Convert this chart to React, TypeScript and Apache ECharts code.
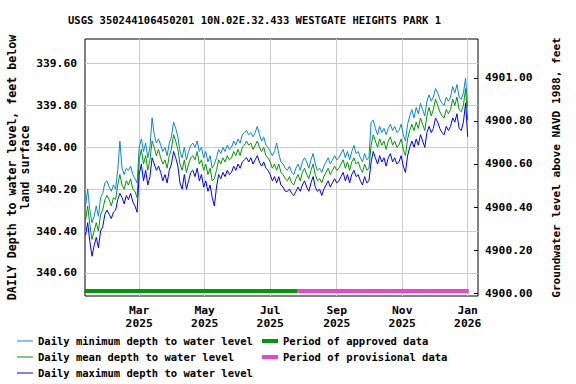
import React, { useEffect, useRef } from "react";
import * as echarts from "echarts";

const TITLE = "USGS 350244106450201 10N.02E.32.433 WESTGATE HEIGHTS PARK 1";
const LEFT_NAME = "DAILY Depth to water level, feet below\nland surface";
const RIGHT_NAME = "Groundwater level above NAVD 1988, feet";

const START_DATE = "2025-01-10";
const STEP_DAYS = 2;

const meanDepth = [
  340.35,340.28,340.37,340.44,340.40,340.36,340.40,340.32,340.30,340.25,
  340.23,340.25,340.28,340.24,340.25,340.18,340.13,340.18,340.20,340.16,
  340.18,340.15,340.20,340.21,340.24,340.06,340.01,340.08,340.04,340.11,
  340.06,339.97,340.00,340.04,340.01,340.05,340.08,340.06,340.10,340.04,
  340.01,339.94,339.97,340.01,340.08,340.11,340.06,340.12,340.08,340.05,
  340.04,340.06,340.02,340.08,340.06,340.11,340.08,340.13,340.10,340.16,
  340.15,340.11,340.06,340.08,340.05,340.07,340.04,340.06,340.05,340.02,
  340.04,340.01,340.04,340.00,339.99,339.97,339.99,339.98,340.01,339.99,
  339.97,340.00,340.02,340.00,340.04,340.05,340.07,340.10,340.08,340.11,
  340.08,340.12,340.13,340.15,340.16,340.14,340.17,340.18,340.15,340.13,
  340.16,340.12,340.10,340.13,340.15,340.11,340.08,340.13,340.16,340.15,
  340.17,340.14,340.12,340.10,340.13,340.11,340.09,340.11,340.10,340.08,
  340.06,340.10,340.07,340.11,340.07,340.05,340.08,340.07,340.10,340.12,
  340.08,340.11,340.10,339.99,339.94,339.97,340.00,339.96,339.99,339.97,
  340.01,339.97,339.95,339.99,339.97,340.00,339.99,339.96,340.01,340.04,
  339.96,339.92,339.89,339.92,339.88,339.91,339.86,339.89,339.92,339.85,
  339.81,339.85,339.82,339.77,339.80,339.83,339.85,339.86,339.82,339.84,
  339.82,339.77,339.80,339.76,339.82,339.83,339.80,339.72,339.87,
];

const minDepth = [
  340.28,340.20,340.30,340.36,340.33,340.28,340.33,340.24,340.22,340.17,
  340.16,340.19,340.21,340.18,340.20,340.11,339.97,340.10,340.13,340.10,
  340.11,340.09,340.13,340.15,340.17,340.00,339.96,340.02,339.98,340.05,
  340.00,339.86,339.94,339.98,339.96,339.99,340.02,340.00,340.04,339.98,
  339.95,339.88,339.91,339.95,340.02,340.05,340.00,340.06,340.02,339.99,
  339.98,340.00,339.97,340.02,340.00,340.05,340.02,340.07,340.04,340.10,
  340.08,340.05,340.01,340.03,340.00,340.02,339.99,340.01,340.00,339.97,
  339.99,339.96,339.98,339.94,339.93,339.92,339.94,339.93,339.95,339.93,
  339.90,339.94,339.97,339.95,339.99,340.00,340.02,340.04,340.02,339.98,
  340.03,340.07,340.08,340.10,340.11,340.09,340.12,340.13,340.10,340.08,
  340.11,340.07,340.05,340.07,340.10,340.06,340.03,340.08,340.11,340.10,
  340.12,340.09,340.07,340.05,340.08,340.06,340.04,340.06,340.05,340.03,
  340.01,340.05,340.02,340.06,340.02,339.99,340.03,340.02,340.05,340.07,
  340.03,340.06,340.05,339.88,339.87,339.91,339.94,339.90,339.93,339.91,
  339.94,339.91,339.89,339.92,339.90,339.93,339.92,339.89,339.94,339.97,
  339.89,339.85,339.82,339.86,339.81,339.84,339.79,339.82,339.85,339.78,
  339.75,339.78,339.76,339.72,339.74,339.77,339.79,339.80,339.76,339.78,
  339.76,339.71,339.74,339.70,339.76,339.77,339.74,339.67,339.81,
];

const maxDepth = [
  340.42,340.36,340.45,340.52,340.47,340.43,340.48,340.40,340.38,340.32,
  340.30,340.32,340.34,340.31,340.30,340.25,340.22,340.24,340.27,340.23,
  340.25,340.22,340.26,340.28,340.31,340.13,340.08,340.16,340.11,340.18,
  340.14,340.05,340.08,340.11,340.09,340.12,340.16,340.13,340.17,340.11,
  340.08,340.02,340.05,340.09,340.17,340.20,340.13,340.20,340.16,340.12,
  340.11,340.14,340.10,340.16,340.13,340.19,340.16,340.21,340.18,340.24,
  340.28,340.19,340.13,340.15,340.12,340.14,340.11,340.13,340.12,340.09,
  340.11,340.08,340.10,340.07,340.06,340.05,340.07,340.05,340.08,340.06,
  340.04,340.07,340.09,340.07,340.10,340.11,340.13,340.16,340.14,340.17,
  340.14,340.18,340.19,340.21,340.21,340.20,340.22,340.23,340.21,340.19,
  340.21,340.18,340.16,340.19,340.21,340.17,340.14,340.19,340.21,340.20,
  340.23,340.20,340.18,340.16,340.19,340.17,340.15,340.17,340.16,340.14,
  340.12,340.16,340.13,340.17,340.13,340.11,340.14,340.13,340.16,340.18,
  340.14,340.17,340.16,340.07,340.02,340.05,340.08,340.04,340.07,340.05,
  340.09,340.05,340.03,340.07,340.05,340.08,340.07,340.04,340.09,340.12,
  340.04,340.00,339.97,340.00,339.96,339.99,339.94,339.97,340.00,339.93,
  339.90,339.93,339.91,339.86,339.88,339.91,339.93,339.94,339.90,339.92,
  339.90,339.86,339.88,339.84,339.91,339.92,339.88,339.79,339.95,
];

const depthTicks = [339.6, 339.8, 340.0, 340.2, 340.4, 340.6];
const elevTicks = [4900.0, 4900.2, 4900.4, 4900.6, 4900.8, 4901.0];
const monthTicks = ["2025-03-01", "2025-05-01", "2025-07-01", "2025-09-01", "2025-11-01", "2026-01-01"];
const approvedPeriod = ["2025-01-09", "2025-07-26"];
const provisionalPeriod = ["2025-07-26", "2026-01-02"];

const X_RANGE = ["2025-01-09T12:00:00Z", "2026-01-10T14:00:00Z"];
const DEPTH_RANGE = [339.483, 340.71];
const ELEV_RANGE = [4899.987, 4901.18];
const PERIOD_BAR_DEPTH = 340.686;

const MONTHS = ["Jan", "Feb", "Mar", "Apr", "May", "Jun", "Jul", "Aug", "Sep", "Oct", "Nov", "Dec"];
const FONT = "'DejaVu Sans Mono', monospace";

const DAY = 86400000;
const toTime = (s: string) => Date.parse(s.length === 10 ? s + "T00:00:00Z" : s);

export default function App() {
  const ref = useRef<HTMLDivElement>(null);

  useEffect(() => {
    if (!ref.current) return;
    const chart = echarts.init(ref.current, undefined, { renderer: "svg" });
    const t0 = toTime(START_DATE);
    const times = meanDepth.map((_, i) => t0 + i * STEP_DAYS * DAY);
    const pairs = (vals: number[]) => vals.map((v, i) => [times[i], v]);
    const monthVals = monthTicks.map(toTime);
    const axisText = { fontFamily: FONT, fontWeight: "bold" as const, fontSize: 11.3, color: "#000" };

    chart.setOption({
      animation: false,
      backgroundColor: "#ffffff",
      title: {
        text: TITLE,
        left: 68,
        top: 14,
        padding: 0,
        textStyle: { fontFamily: FONT, fontWeight: "bold", fontSize: 10.5, color: "#000" },
      },
      grid: {
        left: 85,
        right: 98,
        top: 39,
        bottom: 88,
        show: true,
        borderColor: "#000",
        borderWidth: 1,
        backgroundColor: "transparent",
        containLabel: false,
        outerBoundsMode: "none",
      },
      xAxis: {
        type: "value",
        min: toTime(X_RANGE[0]),
        max: toTime(X_RANGE[1]),
        axisLine: { show: false },
        axisTick: { show: false, customValues: monthVals },
        axisLabel: {
          customValues: monthVals,
          ...axisText,
          margin: 8,
          lineHeight: 13,
          formatter: (v: number) => {
            const d = new Date(v);
            return MONTHS[d.getUTCMonth()] + "\n" + d.getUTCFullYear();
          },
        },
        splitLine: { show: true, lineStyle: { color: "#cccccc", width: 1 } },
      },
      yAxis: [
        {
          type: "value",
          inverse: true,
          position: "left",
          min: DEPTH_RANGE[0],
          max: DEPTH_RANGE[1],
          name: LEFT_NAME,
          nameLocation: "middle",
          nameRotate: 90,
          nameGap: 54,
          nameMoveOverlap: false,
          nameTextStyle: { ...axisText, fontSize: 11.6, lineHeight: 13 },
          axisLine: { show: false },
          axisTick: { show: false, customValues: depthTicks },
          axisLabel: { customValues: depthTicks, ...axisText, margin: 8, formatter: (v: number) => v.toFixed(2) },
          splitLine: { show: true, lineStyle: { color: "#cccccc", width: 1 } },
        },
        {
          type: "value",
          position: "right",
          min: ELEV_RANGE[0],
          max: ELEV_RANGE[1],
          name: RIGHT_NAME,
          nameLocation: "middle",
          nameRotate: 90,
          nameGap: 73,
          nameMoveOverlap: false,
          nameTextStyle: { ...axisText, fontSize: 11.1 },
          axisLine: { show: false },
          axisTick: { show: true, inside: true, length: 4, customValues: elevTicks, lineStyle: { color: "#000" } },
          axisLabel: { customValues: elevTicks, ...axisText, margin: 7, formatter: (v: number) => v.toFixed(2) },
          splitLine: { show: false },
        },
      ],
      legend: [
        {
          data: ["Daily minimum depth to water level", "Daily mean depth to water level", "Daily maximum depth to water level"],
          orient: "vertical",
          left: 17,
          top: 333,
          padding: 0,
          itemGap: 0,
          itemWidth: 16,
          itemHeight: 1,
          icon: "rect",
          textStyle: { fontFamily: FONT, fontWeight: "bold", fontSize: 10.5, color: "#000", lineHeight: 16 },
        },
        {
          data: ["Period of approved data", "Period of provisional data"],
          orient: "vertical",
          left: 262,
          top: 333,
          padding: 0,
          itemGap: 0,
          itemWidth: 16,
          itemHeight: 4,
          icon: "rect",
          textStyle: { fontFamily: FONT, fontWeight: "bold", fontSize: 10.5, color: "#000", lineHeight: 16 },
        },
      ],
      series: [
        {
          name: "Daily minimum depth to water level",
          type: "line",
          yAxisIndex: 0,
          data: pairs(minDepth),
          symbol: "none",
          color: "#0a88d0",
          lineStyle: { width: 1, color: "#0a88d0" },
        },
        {
          name: "Daily mean depth to water level",
          type: "line",
          yAxisIndex: 0,
          data: pairs(meanDepth),
          symbol: "none",
          color: "#009900",
          lineStyle: { width: 1, color: "#009900" },
        },
        {
          name: "Daily maximum depth to water level",
          type: "line",
          yAxisIndex: 0,
          data: pairs(maxDepth),
          symbol: "none",
          color: "#0000ff",
          lineStyle: { width: 1, color: "#0000ff" },
        },
        {
          name: "Period of approved data",
          type: "line",
          yAxisIndex: 0,
          data: approvedPeriod.map((d) => [toTime(d), PERIOD_BAR_DEPTH]),
          symbol: "none",
          color: "#009900",
          lineStyle: { width: 4, color: "#009900", cap: "butt" },
        },
        {
          name: "Period of provisional data",
          type: "line",
          yAxisIndex: 0,
          data: provisionalPeriod.map((d) => [toTime(d), PERIOD_BAR_DEPTH]),
          symbol: "none",
          color: "#ee44cc",
          lineStyle: { width: 4, color: "#ee44cc", cap: "butt" },
        },
      ],
    });
    return () => chart.dispose();
  }, []);

  return <div ref={ref} style={{ width: 576, height: 384, position: "absolute", left: 0, top: 0 }} />;
}
